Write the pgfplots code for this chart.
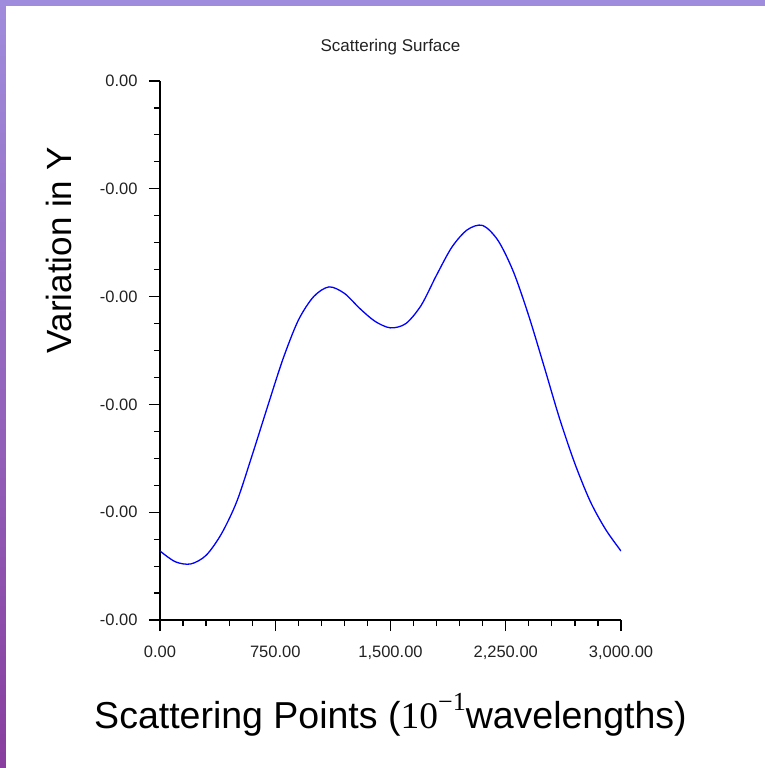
\documentclass[border=0pt]{standalone}
\usepackage{pgfplots}
\pgfplotsset{compat=1.18}
\usepackage{fontspec}
\setmainfont{Liberation Sans}
\newfontfamily\serifnum{Liberation Serif}
\definecolor{barA}{HTML}{A08CDC}
\definecolor{barB}{HTML}{883E9E}
\definecolor{ticktext}{HTML}{222222}
\begin{document}
\begin{tikzpicture}
\path[use as bounding box] (-160pt,-148pt) rectangle (605pt,620pt);
\fill[barA] (-160pt,614pt) rectangle (605pt,620pt);
\shade[top color=barA, bottom color=barB] (-160pt,-148pt) rectangle (-154pt,620pt);
\begin{axis}[
  scale only axis,
  width=461pt, height=539pt,
  xmin=0, xmax=3000, ymin=-5, ymax=0,
  axis lines*=left,
  axis line style={-, line width=1.2pt, black},
  every tick/.style={black, line width=1.2pt},
  tick align=outside,
  major tick length=11pt,
  minor tick length=6pt,
  xtick={0,750,1500,2250,3000},
  xticklabels={0.00,750.00,{1,500.00},{2,250.00},{3,000.00}},
  ytick={-5,-4,-3,-2,-1,0},
  yticklabels={-0.00,-0.00,-0.00,-0.00,-0.00,0.00},
  minor x tick num=4,
  minor y tick num=3,
  /pgf/number format/assume math mode=true,
  tick label style={font=\fontsize{16.5}{18}\selectfont, text=ticktext},
  yticklabel style={xshift=-8pt},
  xticklabel style={yshift=-11pt},
  title={Scattering Surface},
  title style={at={(axis description cs:0.5,1)}, anchor=base, yshift=23pt, font=\fontsize{17}{19}\selectfont, text=ticktext},
  xlabel={Scattering Points ({\serifnum 10\raisebox{0.48em}{\fontsize{26}{28}\selectfont −1}}wavelengths)},
  xlabel style={at={(axis description cs:0.5,-0.2004)}, anchor=base, font=\fontsize{37.5}{40}\selectfont, inner sep=0pt},
  ylabel={Variation in Y},
  ylabel style={at={(axis description cs:-0.191,0.686)}, anchor=base, font=\fontsize{35}{38}\selectfont, inner sep=0pt},
]
\addplot[blue, line width=1.3pt, smooth] coordinates {
(0,-4.36) (100,-4.46) (200,-4.48) (300,-4.40) (400,-4.20) (500,-3.90)
(600,-3.47) (700,-3.02) (800,-2.58) (900,-2.22) (1000,-2.00) (1100,-1.91)
(1200,-1.97) (1300,-2.11) (1400,-2.23) (1500,-2.29) (1600,-2.25) (1700,-2.08)
(1800,-1.80) (1900,-1.54) (2000,-1.38) (2100,-1.34) (2200,-1.48) (2300,-1.77)
(2400,-2.18) (2500,-2.65) (2600,-3.13) (2700,-3.55) (2800,-3.90) (2900,-4.16)
(3000,-4.36)
};
\end{axis}
\end{tikzpicture}
\end{document}
